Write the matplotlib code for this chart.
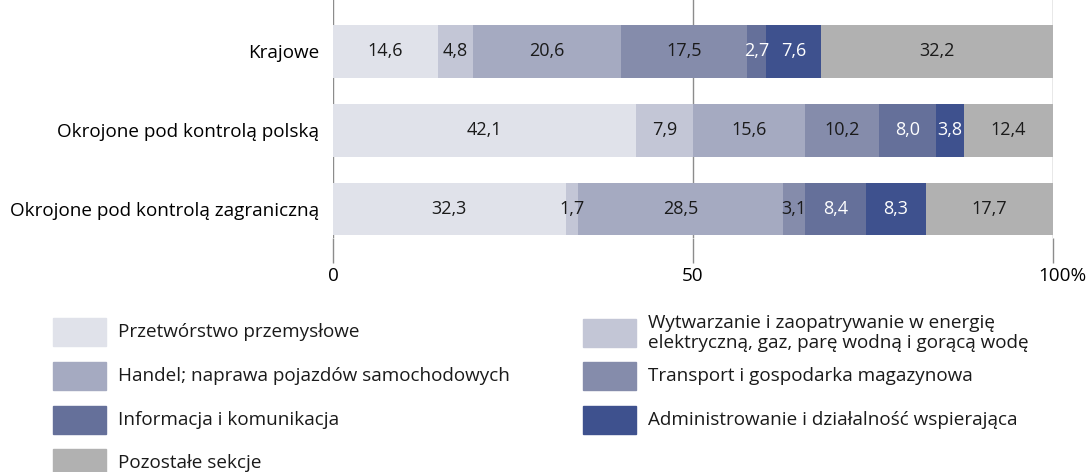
import matplotlib.pyplot as plt
from matplotlib.patches import Rectangle
from matplotlib.transforms import ScaledTranslation
import numpy as np

plt.rcParams['font.family'] = ['Open Sans', 'DejaVu Sans']

groups = ["Krajowe", "Okrojone pod kontrolą polską", "Okrojone pod kontrolą zagraniczną"]
sections = [
    "Przetwórstwo przemysłowe",
    "Wytwarzanie i zaopatrywanie w energię\nelektryczną, gaz, parę wodną i gorącą wodę",
    "Handel; naprawa pojazdów samochodowych",
    "Transport i gospodarka magazynowa",
    "Informacja i komunikacja",
    "Administrowanie i działalność wspierająca",
    "Pozostałe sekcje",
]
krajowe = [14.6, 4.8, 20.6, 17.5, 2.7, 7.6, 32.2]
polska = [42.1, 7.9, 15.6, 10.2, 8.0, 3.8, 12.4]
zagraniczna = [32.3, 1.7, 28.5, 3.1, 8.4, 8.3, 17.7]
colors = ["#E0E2EA", "#C3C6D6", "#A5AAC1", "#858CAB", "#65709A", "#3E518E", "#B1B1B1"]
text_colors = ["#1a1a1a", "#1a1a1a", "#1a1a1a", "#1a1a1a", "white", "white", "#1a1a1a"]

W, H = 1088, 472
fig = plt.figure(figsize=(W / 100, H / 100), dpi=100)
# axes in pixel coords: left 333, right 1053, top 0, bottom 238
ax = fig.add_axes([333 / W, 1 - 238 / H, 720 / W, 238 / H])

data = np.array([krajowe, polska, zagraniczna])
y = np.arange(len(groups))
left = np.zeros(len(groups))
for i in range(len(sections)):
    vals = data[:, i]
    ax.barh(y, vals, left=left, height=0.67, color=colors[i], zorder=2)
    for j in range(len(groups)):
        ax.text(left[j] + vals[j] / 2, y[j], f"{vals[j]:.1f}".replace(".", ","),
                ha="center", va="center", fontsize=13, color=text_colors[i], zorder=3)
    left += vals

ax.set_xlim(0, 100)
ax.set_ylim(2 + 29 / 79, -51.5 / 79)
for x in [0, 50, 100]:
    ax.axvline(x, color="#8c8c8c", lw=1, zorder=1)
for s in ax.spines.values():
    s.set_visible(False)
ax.set_xticks([0, 50, 100])
ax.set_xticklabels(["0", "50", "100%"], fontsize=13.6)
ax.tick_params(axis="x", length=18, width=1, color="#8c8c8c", pad=3)
lab = ax.get_xticklabels()[2]
lab.set_transform(lab.get_transform() + ScaledTranslation(0.09, 0, fig.dpi_scale_trans))
ax.set_yticks(y)
ax.set_yticklabels(groups, fontsize=13.6)
ax.tick_params(axis="y", length=0, pad=10)

# legend drawn by hand in pixel positions
def legend_item(x, yc, color, label):
    fig.add_artist(Rectangle((x / W, 1 - (yc + 14) / H), 53 / W, 28 / H,
                             transform=fig.transFigure, color=color))
    fig.text((x + 65) / W, 1 - yc / H, label, fontsize=13.6, va="center", ha="left",
             color="#1a1a1a", linespacing=1.1)

legend_item(53, 332, colors[0], sections[0])
legend_item(53, 376, colors[2], sections[2])
legend_item(53, 420, colors[4], sections[4])
legend_item(53, 463, colors[6], sections[6])
legend_item(583, 333, colors[1], sections[1])
legend_item(583, 376, colors[3], sections[3])
legend_item(583, 420, colors[5], sections[5])

fig.savefig("out.png", dpi=100)
